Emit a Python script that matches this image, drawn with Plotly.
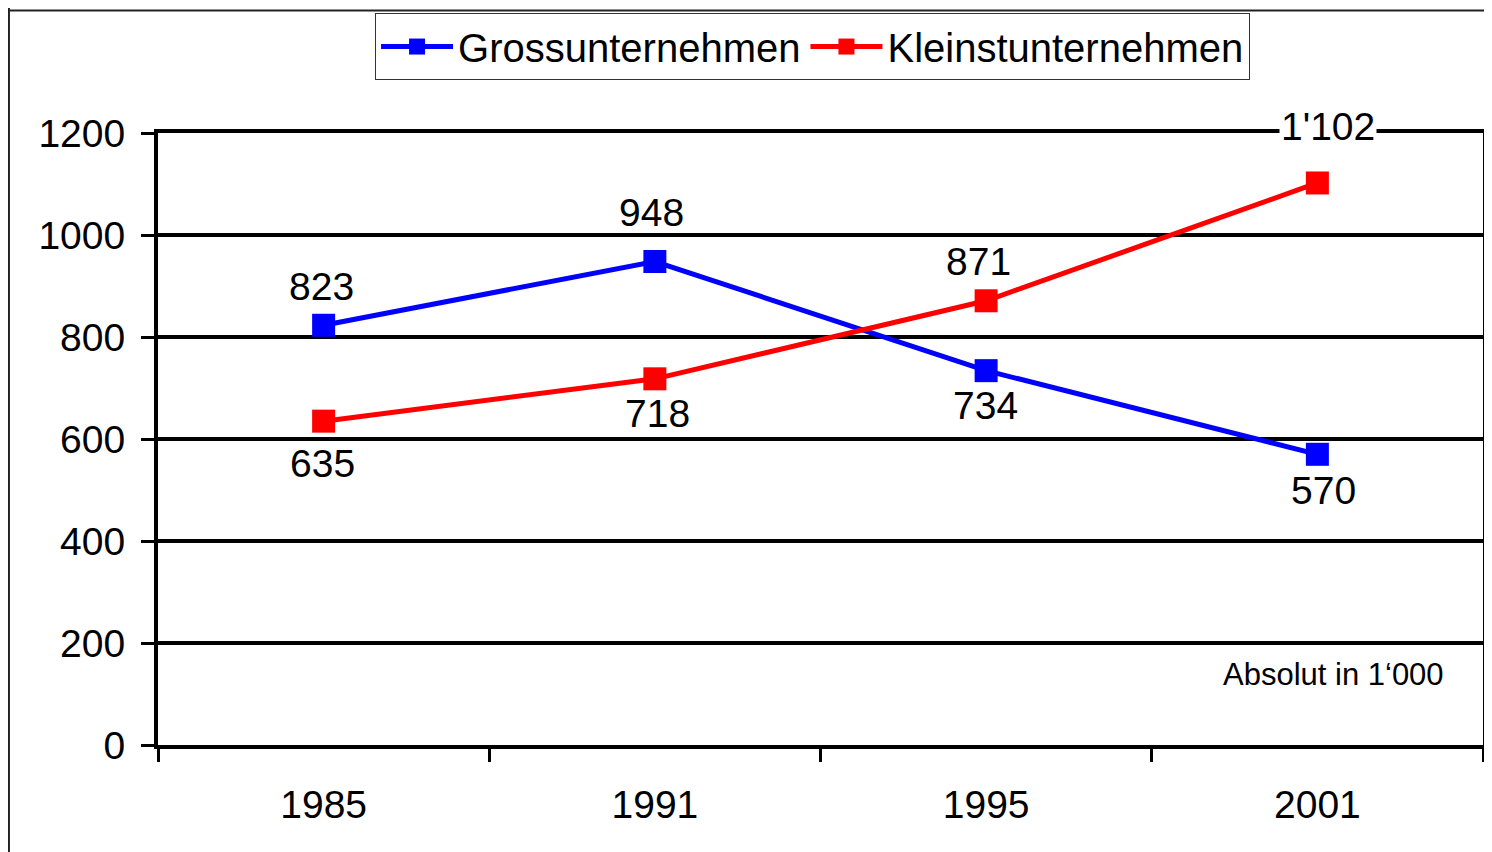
import plotly.graph_objects as go

# data (absolute, in 1'000)
years = ["1985", "1991", "1995", "2001"]
gross = [823, 948, 734, 570]
klein = [635, 718, 871, 1102]
gross_labels = ["823", "948", "734", "570"]
klein_labels = ["635", "718", "871", "1'102"]

FONT = "Liberation Sans, Arial, sans-serif"

fig = go.Figure()
fig.add_trace(go.Scatter(
    x=years, y=gross, name="Grossunternehmen", mode="lines+markers",
    line=dict(color="#0000ff", width=5),
    marker=dict(symbol="square", size=23, color="#0000ff"),
))
fig.add_trace(go.Scatter(
    x=years, y=klein, name="Kleinstunternehmen", mode="lines+markers",
    line=dict(color="#ff0000", width=5),
    marker=dict(symbol="square", size=23, color="#ff0000"),
))

# data labels (x given as category index, since the category names look numeric)
gross_shift = [(-2, 39), (-3, 49), (-1, -35), (6, -36)]
klein_shift = [(-1, -42), (3, -35), (-8, 39), (11, 56)]
for i, (y, t, (dx, dy)) in enumerate(zip(gross, gross_labels, gross_shift)):
    fig.add_annotation(x=i, y=y, text=t, showarrow=False, xshift=dx, yshift=dy,
                       font=dict(size=39, color="black", family=FONT))
for i, (y, t, (dx, dy)) in enumerate(zip(klein, klein_labels, klein_shift)):
    fig.add_annotation(x=i, y=y, text=t, showarrow=False, xshift=dx, yshift=dy,
                       bgcolor="white" if t == "1'102" else "rgba(0,0,0,0)",
                       font=dict(size=39, color="black", family=FONT))

fig.add_annotation(x=0.972, y=0.116, xref="paper", yref="paper", text="Absolut in 1‘000",
                   showarrow=False, xanchor="right", yanchor="middle",
                   font=dict(size=31, color="black", family=FONT))

# dark frame edge at left / top of the page
fig.add_shape(type="line", xref="paper", yref="paper", x0=-0.1125, x1=-0.1125,
              y0=-0.2, y1=1.21, line=dict(color="#222222", width=2))
fig.add_shape(type="line", xref="paper", yref="paper", x0=-0.12, x1=1.02,
              y0=1.2, y1=1.2, line=dict(color="#222222", width=2))

fig.update_layout(
    width=1484, height=844,
    margin=dict(l=150, r=5, t=124, b=107),
    paper_bgcolor="white",
    plot_bgcolor="white",
    font=dict(family=FONT, color="black", size=39),
    showlegend=True,
    legend=dict(
        orientation="h", x=0.494, xanchor="center", y=1.196, yanchor="top",
        bgcolor="white", bordercolor="#333333", borderwidth=1,
        font=dict(size=40), itemwidth=72,
    ),
    xaxis=dict(
        type="category", tickson="boundaries", range=[-0.5, 3.5],
        showgrid=False, showline=True, linecolor="black", linewidth=4,
        mirror=True, ticks="outside", ticklen=13, tickwidth=3, tickcolor="black",
        tickfont=dict(size=39), ticklabelstandoff=22,
    ),
    yaxis=dict(
        range=[0, 1200], dtick=200, showgrid=True, gridcolor="black", gridwidth=4,
        zeroline=False, showline=True, linecolor="black", linewidth=4, mirror=True,
        ticks="outside", ticklen=13, tickwidth=3, tickcolor="black",
        tickfont=dict(size=39), ticklabelstandoff=8,
    ),
)

fig.write_html("out.html")
